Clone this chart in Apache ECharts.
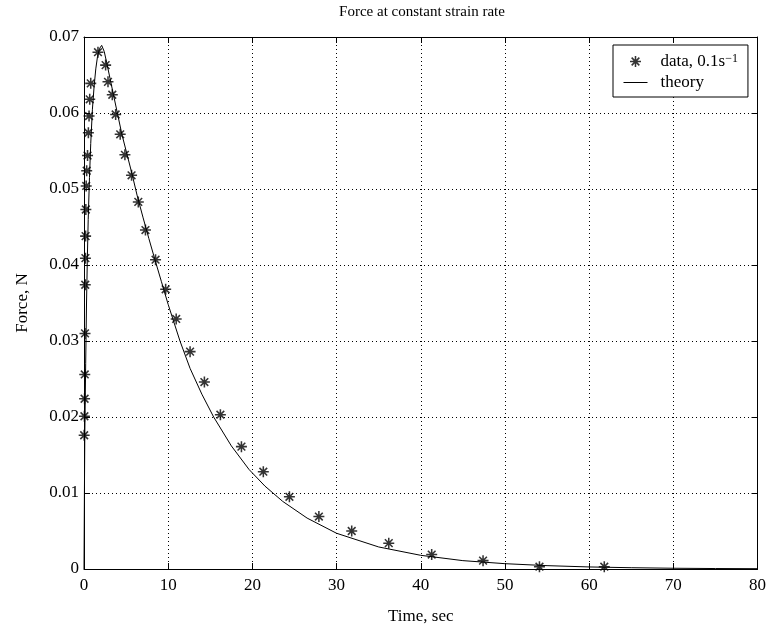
<!DOCTYPE html>
<html>
<head>
<meta charset="utf-8">
<script src="https://cdn.jsdelivr.net/npm/echarts@6/dist/echarts.min.js"></script>
<style>html,body{margin:0;padding:0;background:#fff}#c{width:769px;height:632px}</style>
</head>
<body>
<div id="c"></div>
<script>
var titleText = 'Force at constant strain rate';
var xName = 'Time, sec';
var yName = 'Force, N';
var xTicks = [0, 10, 20, 30, 40, 50, 60, 70, 80];
var yTicks = [0, 0.01, 0.02, 0.03, 0.04, 0.05, 0.06, 0.07];

// measured data (asterisks)
var dataT = [0.02, 0.05, 0.07, 0.09, 0.12, 0.15, 0.17, 0.19, 0.22, 0.26, 0.32, 0.42, 0.52, 0.6, 0.68, 0.8,
  1.66, 2.57, 2.85, 3.36, 3.76, 4.3, 4.86, 5.65, 6.45, 7.3, 8.5, 9.7, 10.95, 12.6, 14.3, 16.2, 18.7,
  21.3, 24.4, 27.9, 31.8, 36.2, 41.3, 47.4, 54.1, 61.8];
var dataF = [0.0176, 0.0201, 0.0224, 0.0256, 0.0310, 0.0374, 0.0409, 0.0438, 0.0473, 0.0504, 0.0524, 0.0544, 0.0574, 0.0596, 0.0618, 0.0639,
  0.0680, 0.0663, 0.0641, 0.0624, 0.0598, 0.0572, 0.0545, 0.0518, 0.0483, 0.0446, 0.0407, 0.0368, 0.0329, 0.0286, 0.0246, 0.0203, 0.0161,
  0.0128, 0.0095, 0.0069, 0.0050, 0.0034, 0.0019, 0.0011, 0.0003, 0.0003];

// theory curve
var theoryT = [0, 0.05, 0.1, 0.2, 0.3, 0.4, 0.5, 0.65, 0.8, 1.0, 1.2, 1.4, 1.6, 1.85, 2.1, 2.4, 2.7, 3.1, 3.5, 4.0, 4.5,
  5.1, 5.7, 6.3, 7.0, 7.7, 8.4, 9.2, 10.0, 11.4, 12.6, 14.0, 15.4, 17.5, 19.6, 21.5, 23.6, 26.5, 30, 35, 40, 45, 50, 55, 60, 65, 70, 75, 80];
var theoryF = [0, 0.010, 0.018, 0.027, 0.035, 0.041, 0.046, 0.0515, 0.056, 0.0605, 0.0635, 0.0658, 0.0674, 0.0685, 0.0689, 0.0681, 0.0666, 0.0645, 0.0624, 0.0598, 0.0572,
  0.0546, 0.0520, 0.0492, 0.0463, 0.0435, 0.0408, 0.0378, 0.0348, 0.0300, 0.0264, 0.0230, 0.0200, 0.0162, 0.0131, 0.0109, 0.0089, 0.0067, 0.0047, 0.0029, 0.0018, 0.0011, 0.0007, 0.00044, 0.00027, 0.00017, 0.0001, 0.00006, 0.00004];

var legendData = 'data';
var legendTheory = 'theory';

var FONT = 'Liberation Serif';
var ASTER = 'path://M0,8.6H20V11.4H0Z M8.6,0H11.4V20H8.6Z M2,4L4,2L18,16L16,18Z M16,2L18,4L4,18L2,16Z';

function zip(a, b) { return a.map(function (v, i) { return [v, b[i]]; }); }

var axisBase = {
  type: 'value',
  axisLine: { show: true, onZero: false, lineStyle: { color: '#000', width: 1 } },
  axisTick: { show: true, inside: true, length: 6, lineStyle: { color: '#000' } },
  axisLabel: { color: '#000', fontFamily: FONT, fontSize: 17 },
  splitLine: { show: false }
};
function ax(extra) { return echarts.util.merge(echarts.util.clone(axisBase), extra, true); }

var chart = echarts.init(document.getElementById('c'), null, { renderer: 'canvas' });
chart.setOption({
  animation: false,
  backgroundColor: '#fff',
  title: {
    text: titleText, left: 417, top: 0, textAlign: 'center',
    textStyle: { fontFamily: FONT, fontSize: 15, fontWeight: 'normal', color: '#000' }
  },
  grid: { left: 84, right: 10, top: 37, bottom: 63, show: false },
  legend: {
    orient: 'vertical', left: 613, top: 45,
    backgroundColor: '#fff', borderColor: '#000', borderWidth: 1,
    padding: [8, 10, 6, 10], itemGap: 3, itemWidth: 24, itemHeight: 11,
    selectedMode: false,
    lineStyle: { width: 1 },
    data: [legendData, { name: legendTheory, itemStyle: { color: 'rgba(0,0,0,0)', borderWidth: 0 } }],
    formatter: function (n) { return n === legendData ? 'data, 0.1s{sup|\u22121}' : 'theory'; },
    textStyle: {
      fontFamily: FONT, fontSize: 17, color: '#000', lineHeight: 17, padding: [0, 0, 0, 8],
      rich: { sup: { fontFamily: FONT, fontSize: 12, color: '#000', verticalAlign: 'top', lineHeight: 17, padding: [0, 0, 6, 0] } }
    }
  },
  xAxis: [
    ax({ min: xTicks[0], max: xTicks[xTicks.length - 1], interval: 10, position: 'bottom',
      name: xName, nameLocation: 'middle', nameGap: 39,
      nameTextStyle: { fontFamily: FONT, fontSize: 17, color: '#000' },
      axisLabel: { margin: 8 },
      splitLine: { show: true, lineStyle: { color: '#000', type: [1, 3], width: 1 } } }),
    ax({ min: xTicks[0], max: xTicks[xTicks.length - 1], interval: 10, position: 'top', axisLabel: { show: false } })
  ],
  yAxis: [
    ax({ min: yTicks[0], max: yTicks[yTicks.length - 1], interval: 0.01, position: 'left',
      name: yName, nameLocation: 'middle', nameGap: 53,
      nameTextStyle: { fontFamily: FONT, fontSize: 17, color: '#000' },
      axisLabel: { margin: 5, formatter: function (v) { return v === 0 ? '0' : (+v.toFixed(2)).toString(); } },
      splitLine: { show: true, lineStyle: { color: '#000', type: [1, 3], width: 1 } } }),
    ax({ min: yTicks[0], max: yTicks[yTicks.length - 1], interval: 0.01, position: 'right', axisLabel: { show: false } })
  ],
  series: [
    {
      name: legendData, type: 'scatter', data: zip(dataT, dataF),
      symbol: ASTER, symbolSize: 11, symbolKeepAspect: true,
      itemStyle: { color: '#000' }, z: 3
    },
    {
      name: legendTheory, type: 'line', data: zip(theoryT, theoryF),
      symbol: 'none', showSymbol: false, smooth: false,
      lineStyle: { color: '#000', width: 1 }, itemStyle: { color: '#000' }, z: 2
    }
  ]
});
</script>
</body>
</html>
